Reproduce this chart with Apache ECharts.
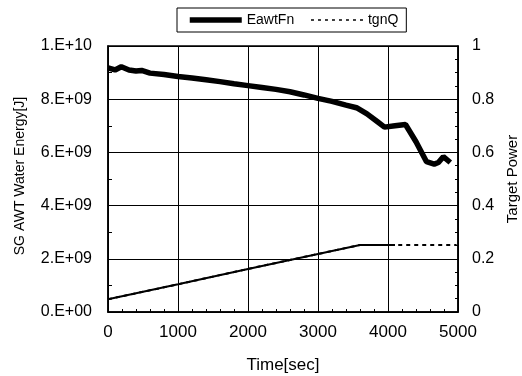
<!DOCTYPE html>
<html><head><meta charset="utf-8">
<script src="https://cdn.jsdelivr.net/npm/echarts@6/dist/echarts.min.js"></script>
<style>html,body{margin:0;padding:0;background:#fff}#c{width:522px;height:376px}</style>
</head><body><div id="c"></div>
<script>
// EawtFn: time [sec] and energy [J]
var eawtTime = [0, 100, 190, 300, 400, 480, 600, 800, 1000, 1200, 1400, 1600, 1800, 2000, 2200, 2400, 2600, 2800, 3000, 3200, 3400, 3550, 3700, 3850, 3950, 4100, 4250, 4400, 4550, 4660, 4720, 4790, 4890];
var eawtVal = [9.18e9, 9.1e9, 9.22e9, 9.1e9, 9.06e9, 9.08e9, 8.98e9, 8.93e9, 8.85e9, 8.8e9, 8.73e9, 8.66e9, 8.58e9, 8.51e9, 8.44e9, 8.37e9, 8.28e9, 8.16e9, 8.03e9, 7.92e9, 7.78e9, 7.68e9, 7.45e9, 7.15e9, 6.95e9, 7.0e9, 7.05e9, 6.4e9, 5.65e9, 5.56e9, 5.62e9, 5.84e9, 5.62e9];
// tgnQ: target power (right axis)
var tgnTime = [0, 1000, 2000, 3000, 3600, 4100, 4980];
var tgnVal = [0.048, 0.104, 0.162, 0.218, 0.252, 0.252, 0.252];
var solidEnd = 4100;
var xTicks = [0, 1000, 2000, 3000, 4000, 5000];
var leftTicks = ['0.E+00', '2.E+09', '4.E+09', '6.E+09', '8.E+09', '1.E+10'];
var rightTicks = ['0', '0.2', '0.4', '0.6', '0.8', '1'];

var eawtData = eawtTime.map(function (t, i) { return [t, eawtVal[i]]; });
var tgnData = tgnTime.map(function (t, i) { return [t, tgnVal[i]]; });
var tgnSolid = tgnData.filter(function (p) { return p[0] <= solidEnd; });

var font = 'Liberation Sans, Arial, sans-serif';
var chart = echarts.init(document.getElementById('c'), null, { renderer: 'canvas' });
chart.setOption({
  animation: false,
  backgroundColor: '#fff',
  textStyle: { fontFamily: font, color: '#000' },
  legend: {
    data: [
      { name: 'EawtFn', itemStyle: { opacity: 0 }, lineStyle: { width: 5.5, color: '#000' } },
      { name: 'tgnQ', itemStyle: { opacity: 0 }, lineStyle: { width: 1.5, color: '#000', type: [3, 4] } }
    ],
    left: 177, top: 8,
    width: 232,
    borderColor: '#000', borderWidth: 1,
    padding: [5, 8, 5, 10],
    itemGap: 16,
    itemWidth: 52, itemHeight: 12,
    textStyle: { fontFamily: font, fontSize: 14, color: '#000' }
  },
  grid: { left: 108, right: 64, top: 46, bottom: 64, show: true, borderColor: '#000', borderWidth: 1.5, outerBoundsMode: 'none', containLabel: false },
  xAxis: {
    type: 'value', min: 0, max: 5000, interval: 1000,
    name: 'Time[sec]', nameLocation: 'middle', nameGap: 45,
    nameTextStyle: { fontFamily: font, fontSize: 17, color: '#000' },
    axisLine: { show: true, lineStyle: { color: '#000', width: 1.5 } },
    axisTick: { show: false, inside: true },
    minorTick: { show: true, splitNumber: 5, length: 3, lineStyle: { color: '#000' } },
    axisLabel: { margin: 12, fontSize: 17, color: '#000', fontFamily: font,
      formatter: function (v) { return String(xTicks[Math.round(v / 1000)]); } },
    splitLine: { show: true, lineStyle: { color: '#000', width: 1 } }
  },
  yAxis: [{
    type: 'value', min: 0, max: 1e10, interval: 2e9, position: 'left',
    name: 'SG AWT Water Energy[J]', nameLocation: 'middle', nameGap: 81, nameRotate: 90,
    nameTextStyle: { fontFamily: font, fontSize: 14, color: '#000', padding: [0, 0, 0, 6] },
    axisLine: { show: true, lineStyle: { color: '#000', width: 1.5 } },
    axisTick: { show: false, inside: true },
    minorTick: { show: true, splitNumber: 2, length: 4, lineStyle: { color: '#000' } },
    axisLabel: { margin: 16, fontSize: 16, color: '#000', fontFamily: font,
      formatter: function (v) { return leftTicks[Math.round(v / 2e9)]; } },
    splitLine: { show: true, lineStyle: { color: '#000', width: 1 } }
  }, {
    type: 'value', min: 0, max: 1, interval: 0.2, position: 'right',
    name: 'Target Power', nameLocation: 'middle', nameGap: 46, nameRotate: 90,
    nameTextStyle: { fontFamily: font, fontSize: 15, color: '#000' },
    axisLine: { show: true, lineStyle: { color: '#000', width: 1.5 } },
    axisTick: { show: false, inside: true },
    minorTick: { show: true, splitNumber: 4, length: 3, lineStyle: { color: '#000' } },
    axisLabel: { margin: 14, fontSize: 16, color: '#000', fontFamily: font,
      formatter: function (v) { return rightTicks[Math.round(v / 0.2)]; } },
    splitLine: { show: false }
  }],
  series: [{
    name: 'EawtFn', type: 'line', yAxisIndex: 0, data: eawtData,
    showSymbol: false, symbol: 'none', smooth: false,
    lineStyle: { color: '#000', width: 5.5 }, itemStyle: { color: '#000' }, z: 5
  }, {
    name: 'tgnQ', type: 'line', yAxisIndex: 1, data: tgnData,
    showSymbol: false, symbol: 'none',
    lineStyle: { color: '#000', width: 2, type: [4, 4] }, itemStyle: { color: '#000' }, z: 3
  }, {
    name: 'tgnQ-solid', type: 'line', yAxisIndex: 1, data: tgnSolid,
    showSymbol: false, symbol: 'none',
    lineStyle: { color: '#000', width: 2 }, itemStyle: { color: '#000' }, z: 4
  }]
});
</script></body></html>
